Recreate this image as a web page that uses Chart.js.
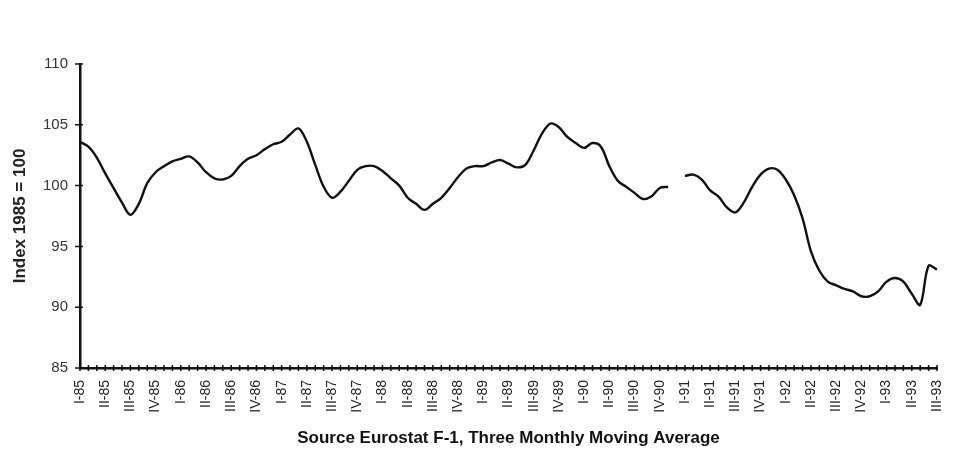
<!DOCTYPE html>
<html>
<head>
<meta charset="utf-8">
<script src="https://cdn.jsdelivr.net/npm/chart.js@4"></script>
<style>
  html, body { margin: 0; padding: 0; background: #fff; }
  #wrap { width: 973px; height: 450px; }
</style>
</head>
<body>
<div id="wrap"><canvas id="lineChart"></canvas></div>
<script>
const quarters = [
  "I-85", "II-85", "III-85", "IV-85", "I-86", "II-86", "III-86", "IV-86",
  "I-87", "II-87", "III-87", "IV-87", "I-88", "II-88", "III-88", "IV-88",
  "I-89", "II-89", "III-89", "IV-89", "I-90", "II-90", "III-90", "IV-90",
  "I-91", "II-91", "III-91", "IV-91", "I-92", "II-92", "III-92", "IV-92",
  "I-93", "II-93", "III-93"
];

// monthly values, Jan 85 .. Jul 93 (Dec 90 missing)
const indexValues = [
  103.6, 103.2, 102.3, 101.0, 99.8, 98.6, 97.6, 98.5, 100.2, 101.1, 101.6, 102.0,
  102.2, 102.4, 101.9, 101.1, 100.6, 100.5, 100.8, 101.6, 102.2, 102.5, 103.0, 103.4,
  103.6, 104.2, 104.7, 103.6, 101.7, 99.9, 99.0, 99.5, 100.4, 101.3, 101.6, 101.6,
  101.2, 100.6, 100.0, 99.0, 98.5, 98.0, 98.5, 99.0, 99.8, 100.7, 101.4, 101.6,
  101.6, 101.9, 102.1, 101.8, 101.5, 101.7, 102.9, 104.3, 105.1, 104.8, 104.0, 103.5,
  103.1, 103.5, 103.2, 101.6, 100.4, 99.9, 99.4, 98.9, 99.1, 99.8, 99.9, null,
  100.8, 100.9, 100.5, 99.6, 99.1, 98.2, 97.8, 98.6, 99.9, 100.9, 101.4, 101.3,
  100.5, 99.2, 97.3, 94.6, 93.0, 92.1, 91.8, 91.5, 91.3, 90.9, 90.9, 91.3,
  92.1, 92.4, 92.1, 91.1, 90.2, 93.4, 93.1
];

const yMin = 85;
const yMax = 110;
const yStep = 5;

const monthLabels = indexValues.map((v, i) => (i % 3 === 0 ? quarters[i / 3] : ""));

const fontFamily = "'Liberation Sans', Arial, sans-serif";

// little crosses along both axes, like the original
const hatchPlugin = {
  id: "hatch",
  afterDraw(chart) {
    const ctx = chart.ctx;
    const xs = chart.scales.x;
    const ys = chart.scales.y;
    ctx.save();
    ctx.strokeStyle = "#111";
    ctx.lineWidth = 1.5;
    ctx.beginPath();
    monthLabels.forEach((l, i) => {
      const px = xs.getPixelForValue(i);
      ctx.moveTo(px, ys.bottom - 3);
      ctx.lineTo(px, ys.bottom + 3);
    });
    ys.ticks.forEach((t) => {
      const py = ys.getPixelForValue(t.value);
      ctx.moveTo(xs.left - 5, py);
      ctx.lineTo(xs.left + 3, py);
    });
    ctx.stroke();
    ctx.restore();
  }
};

const ctxLineChart = document.getElementById("lineChart").getContext("2d");

const lineChart = new Chart(ctxLineChart, {
  type: "line",
  data: {
    labels: monthLabels,
    datasets: [{
      label: "Index",
      data: indexValues,
      borderColor: "#111",
      borderWidth: 2.4,
      pointRadius: 0,
      tension: 0.35,
      spanGaps: false
    }]
  },
  options: {
    responsive: true,
    maintainAspectRatio: false,
    animation: false,
    layout: {
      padding: { top: 64, right: 36, bottom: 0, left: 0 }
    },
    plugins: {
      legend: { display: false },
      tooltip: { enabled: false }
    },
    scales: {
      x: {
        offset: false,
        afterFit: (scale) => { scale.height = 82; },
        grid: { display: false, drawTicks: false },
        border: { display: true, color: "#111", width: 2.5 },
        ticks: {
          autoSkip: false,
          maxRotation: 90,
          minRotation: 90,
          padding: 12,
          color: "#222",
          font: { family: fontFamily, size: 14 }
        },
        title: {
          display: true,
          text: "Source Eurostat F-1, Three Monthly Moving Average",
          color: "#111",
          font: { family: fontFamily, size: 17, weight: "bold" },
          padding: { top: 0, bottom: 1 }
        }
      },
      y: {
        min: yMin,
        max: yMax,
        afterFit: (scale) => { scale.width = 80; },
        grid: { display: false, drawTicks: false },
        border: { display: true, color: "#111", width: 2.5 },
        ticks: {
          stepSize: yStep,
          padding: 12,
          color: "#333",
          font: { family: fontFamily, size: 15 }
        },
        title: {
          display: true,
          text: "Index 1985 = 100",
          color: "#222",
          font: { family: fontFamily, size: 17, weight: "bold" },
          padding: { top: 10, bottom: 0 }
        }
      }
    }
  },
  plugins: [hatchPlugin]
});
</script>
</body>
</html>
